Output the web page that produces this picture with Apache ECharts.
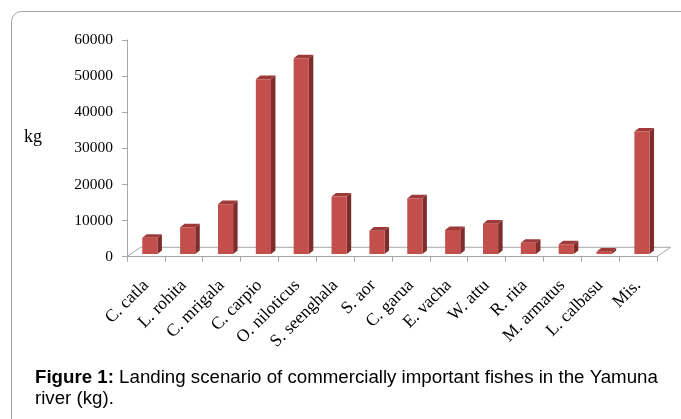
<!DOCTYPE html>
<html>
<head>
<meta charset="utf-8">
<script src="https://cdn.jsdelivr.net/npm/echarts@6/dist/echarts.min.js"></script>
<style>html,body{margin:0;padding:0;background:#fff;}#c{width:681px;height:419px;}</style>
</head>
<body>
<div id="c"></div>
<script>
const categories = ['C. catla','L. rohita','C. mrigala','C. carpio','O. niloticus','S. seenghala','S. aor','C. garua','E. vacha','W. attu','R. rita','M. armatus','L. calbasu','Mis.'];
const values = [4500, 7400, 13800, 48400, 54200, 15900, 6450, 15400, 6650, 8400, 3100, 2700, 650, 33900];
const yMin = 0, yMax = 60000, yStep = 10000;
const captionBold = 'Figure 1:';
const captionLine1 = ' Landing scenario of commercially important fishes in the Yamuna';
const captionLine2 = 'river (kg).';
const yName = 'kg';

const chart = echarts.init(document.getElementById('c'), null, {renderer: 'canvas'});
const FRONT = '#C24F4C', SIDE = '#7F2D2B', TOP = '#9E3B38';
const GRAY = '#A6A6A6';
const DEPTH_X = 13.5, DEPTH_Y = -9.4;

chart.setOption({
  animation: false,
  backgroundColor: '#fff',
  graphic: [
    {type: 'rect', left: 9, top: 9, shape: {x: 0, y: 0, width: 720, height: 460, r: 10}, style: {fill: 'none', stroke: '#A0A0A0', lineWidth: 1}, z: -1},
    {type: 'text', left: 24, top: 128, style: {text: yName, font: '18px "Liberation Serif"', fill: '#000'}},
    {type: 'text', left: 35, top: 368, style: {
      text: '{b|' + captionBold + '}{n|' + captionLine1 + '}\n{n|' + captionLine2 + '}',
      rich: {
        b: {font: 'bold 18.7px "Liberation Sans"', fill: '#000', lineHeight: 21},
        n: {font: '18.7px "Liberation Sans"', fill: '#000', lineHeight: 21}
      }
    }}
  ],
  grid: {left: 127, right: 24, top: 40, bottom: 162.3, containLabel: false},
  xAxis: {
    type: 'category',
    data: categories,
    axisLine: {show: true, lineStyle: {color: GRAY, width: 1}},
    axisTick: {show: true, length: 5, lineStyle: {color: GRAY}},
    axisLabel: {rotate: 45, margin: 26, interval: 0, fontFamily: 'Liberation Serif', fontSize: 17.5, color: '#000'},
    splitLine: {show: false}
  },
  yAxis: {
    type: 'value',
    min: yMin, max: yMax, interval: yStep,
    axisLine: {show: true, lineStyle: {color: GRAY, width: 1}},
    axisTick: {show: true, length: 5, lineStyle: {color: GRAY}},
    axisLabel: {margin: 14, fontFamily: 'Liberation Serif', fontSize: 15.5, color: '#000', formatter: function (v) { return String(v); }},
    splitLine: {show: false}
  },
  series: [
    {
      type: 'custom',
      data: [[0, 0]],
      silent: true,
      clip: false,
      z: 1,
      renderItem: function (params, api) {
        const p = api.coord([0, 0]);
        const bw = api.size([1, 0])[0];
        const x0 = p[0] - bw / 2;
        const x1 = x0 + bw * categories.length;
        const y0 = p[1];
        return {
          type: 'polyline',
          shape: {points: [[x0, y0], [x0 + DEPTH_X, y0 + DEPTH_Y], [x1 + DEPTH_X, y0 + DEPTH_Y], [x1, y0]]},
          style: {stroke: GRAY, lineWidth: 1, fill: 'none'}
        };
      }
    },
    {
      type: 'custom',
      data: values.map((v, i) => [i, v]),
      encode: {x: 0, y: 1},
      clip: false,
      z: 2,
      renderItem: function (params, api) {
        const idx = api.value(0), v = api.value(1);
        const base = api.coord([idx, 0]);
        const top = api.coord([idx, v]);
        const bw = api.size([1, 0])[0];
        const w = bw * 0.4;
        const sx = 3.9, sy = -2.7, dx = 4.5, dy = -3.6;
        const xL = base[0] - w / 2 + sx, xR = xL + w;
        const yB = base[1] + sy, yT = top[1] + sy;
        return {
          type: 'group',
          children: [
            {type: 'polygon', shape: {points: [[xR, yB], [xR + dx, yB + dy], [xR + dx, yT + dy], [xR, yT]]}, style: {fill: SIDE}},
            {type: 'polygon', shape: {points: [[xL, yT], [xR, yT], [xR + dx, yT + dy], [xL + dx, yT + dy]]}, style: {fill: TOP}},
            {type: 'rect', shape: {x: xL, y: yT, width: w, height: yB - yT}, style: {fill: FRONT}}
          ]
        };
      }
    }
  ]
});
</script>
</body>
</html>
